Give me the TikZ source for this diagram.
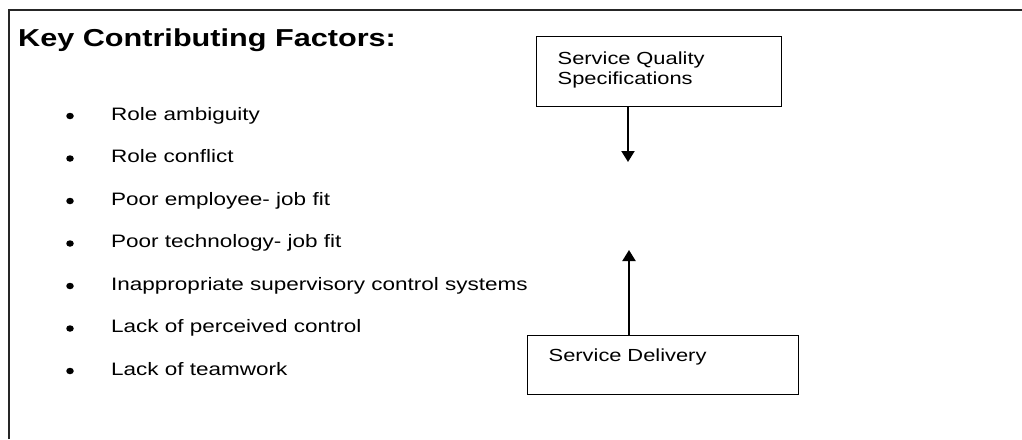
\documentclass[tikz,border=0pt]{standalone}
\usepackage{fontspec}
\setmainfont{Liberation Sans}[FakeStretch=1.25]
\usetikzlibrary{arrows.meta,shapes.geometric}

\tikzset{
  frame/.style={draw=black!85, line width=2.2pt},
  box/.style={draw, rectangle, line width=1.4pt, anchor=north west, align=left,
    inner xsep=21pt, font=\fontsize{17.5}{20}\selectfont},
  arr/.style={line width=2pt, -{Triangle[length=11pt,width=13pt]}},
  dot/.style={ellipse, fill, minimum width=7.5pt, minimum height=6.5pt, inner sep=0pt},
  item/.style={anchor=base west, inner sep=0pt, font=\fontsize{18}{20}\selectfont},
  heading/.style={anchor=base west, inner sep=0pt, font=\fontsize{24.5}{28}\selectfont\bfseries},
}

\begin{document}
\begin{tikzpicture}[x=1pt, y=-1pt]
  \useasboundingbox (0,0) rectangle (1022,439);

  % open frame: left and top edges only
  \coordinate (fbl) at (9,439);
  \coordinate (ftl) at (9,10);
  \coordinate (ftr) at (1022,10);
  \draw[frame] (fbl) -- (ftl) -- (ftr);

  % heading and list of factors
  \node[heading] (title) at (18,46) {Key Contributing Factors:};
  \foreach \t [count=\i] in {Role ambiguity, Role conflict, Poor employee- job fit,
      Poor technology- job fit, Inappropriate supervisory control systems,
      Lack of perceived control, Lack of teamwork} {
    \pgfmathsetmacro{\yb}{120+42.5*(\i-1)}
    \pgfmathsetmacro{\yd}{\yb-4}
    \node[dot] (dot\i) at (70,\yd) {};
    \node[item] (item\i) at (111,\yb) {\t};
  }

  % the two boxes
  \node[box, text width=203pt, inner ysep=12pt, text height=15.3pt, text depth=30.7pt]
    (spec) at (536,36) {Service Quality\\Specifications};
  \node[box, text width=229pt, inner ysep=13.3pt, text height=12.4pt, text depth=20pt]
    (deliv) at (527,335) {Service Delivery};

  % arrows pointing into the gap between the boxes
  \coordinate (downtip) at (628,162);
  \coordinate (uptip) at (629,250);
  \draw[arr] (spec.south -| downtip) -- (downtip);
  \draw[arr] (deliv.north -| uptip) -- (uptip);
\end{tikzpicture}
\end{document}
